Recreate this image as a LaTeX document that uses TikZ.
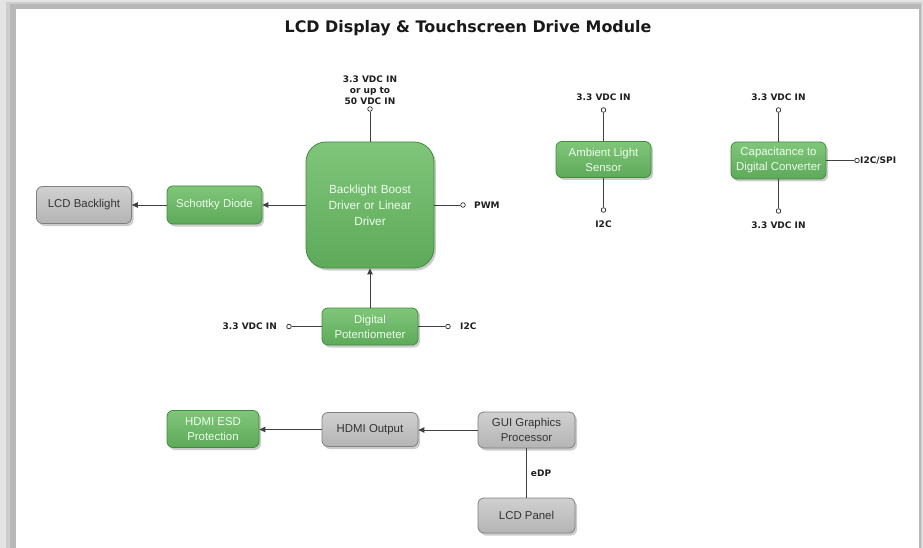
\documentclass[tikz,border=0pt]{standalone}
\usepackage{fontspec}
\setmainfont{Liberation Sans}
\newfontfamily\pinfont{DejaVu Sans}
\usetikzlibrary{arrows.meta,shadows,positioning}
\definecolor{gfill}{HTML}{6BB867}
\definecolor{gtop}{HTML}{80C67A}
\definecolor{gbot}{HTML}{5EA95A}
\definecolor{gline}{HTML}{3F8C3C}
\definecolor{sfill}{HTML}{C2C2C2}
\definecolor{stop}{HTML}{D0D0D0}
\definecolor{sbot}{HTML}{B4B4B4}
\definecolor{sline}{HTML}{808080}
\definecolor{frameA}{HTML}{E4E4E4}
\definecolor{frameB}{HTML}{CDCDCD}
\definecolor{frameC}{HTML}{B8B8B8}
\tikzset{
  box/.style={rounded corners=6pt, line width=0.8pt, inner sep=2pt, align=center,
    font=\fontsize{11.4}{15}\selectfont,
    drop shadow={opacity=0.4, shadow xshift=2pt, shadow yshift=-2.5pt}},
  gbox/.style={box, draw=gline, top color=gtop, bottom color=gbot, text=white!92!green},
  sbox/.style={box, draw=sline, top color=stop, bottom color=sbot, text=black!80},
  pinc/.style={circle, draw=black!85, fill=white, inner sep=0pt, minimum size=4.6pt, line width=0.7pt},
  plabel/.style={font=\pinfont\bfseries\fontsize{9}{11}\selectfont, text=black!88, inner sep=0pt, align=center},
  wire/.style={line width=0.9pt, draw=black!75},
  arr/.style={wire, -{Triangle[length=6pt,width=5.5pt]}}
}
\begin{document}
\begin{tikzpicture}[x=1pt,y=-1pt]
\useasboundingbox (0,0) rectangle (923,548);
% frame
\fill[frameA] (0,0) rectangle (923,548);
\fill[frameB] (6,2) rectangle (922,548);
\fill[frameC] (10,4) rectangle (921,548);
\fill[white] (16,9) rectangle (919,548);
% title
\node[font=\pinfont\bfseries\fontsize{15.9}{18}\selectfont, text=black!90] (title) at (468,28) {LCD Display \& Touchscreen Drive Module};
% boxes
\node[gbox, rounded corners=20pt, minimum width=128pt, minimum height=126pt, text width=110pt, font=\fontsize{11.8}{16}\selectfont] (boost) at (370,205) {Backlight Boost\\Driver or Linear\\Driver};
\node[gbox, minimum width=95pt, minimum height=38pt] (schottky) at (214.5,205) {Schottky Diode};
\node[sbox, minimum width=95pt, minimum height=37pt] (backlight) at (84,205) {LCD Backlight};
\node[gbox, minimum width=96pt, minimum height=37pt] (pot) at (370,326.5) {Digital\\Potentiometer};
\node[gbox, minimum width=95pt, minimum height=36pt] (als) at (603.5,159.5) {Ambient Light\\Sensor};
\node[gbox, minimum width=95pt, minimum height=37pt] (cdc) at (778.5,160.5) {Capacitance to\\Digital Converter};
\node[gbox, minimum width=92pt, minimum height=37pt] (esd) at (213,429) {HDMI ESD\\Protection};
\node[sbox, minimum width=96pt, minimum height=34pt] (hdmi) at (370,429.5) {HDMI Output};
\node[sbox, minimum width=97pt, minimum height=36pt] (gui) at (526.5,430) {GUI Graphics\\Processor};
\node[sbox, minimum width=97pt, minimum height=35pt] (panel) at (526.5,515.5) {LCD Panel};
% pins
\node[pinc] (pboostin) at (370,109) {};
\node[pinc] (ppwm) at (463,205) {};
\node[pinc] (ppotin) at (289,326.5) {};
\node[pinc] (ppoti2c) at (448,326.5) {};
\node[pinc] (palsin) at (603.5,110) {};
\node[pinc] (palsi2c) at (603.5,210) {};
\node[pinc] (pcdcin) at (778.5,110) {};
\node[pinc] (pcdcbot) at (778.5,211) {};
\node[pinc] (pcdcspi) at (857,160.5) {};
% labels
\node[plabel] (lboostin) at (370,90) {3.3 VDC IN\\or up to\\50 VDC IN};
\node[plabel, anchor=west] (lpwm) at (474,205.5) {PWM};
\node[plabel, anchor=east] (lpotin) at (277,326.5) {3.3 VDC IN};
\node[plabel, anchor=west] (lpoti2c) at (460,326.5) {I2C};
\node[plabel] (lalsin) at (603.5,97) {3.3 VDC IN};
\node[plabel] (lalsi2c) at (603.5,224) {I2C};
\node[plabel] (lcdcin) at (778.5,97) {3.3 VDC IN};
\node[plabel] (lcdcbot) at (778.5,225) {3.3 VDC IN};
\node[plabel, anchor=west] (lcdcspi) at (860,160.5) {I2C/SPI};
% wires
\draw[wire] (pboostin) -- (boost.north);
\draw[wire] (boost.east) -- (ppwm);
\draw[arr] (boost.west) -- (schottky.east);
\draw[arr] (schottky.west) -- (backlight.east);
\draw[arr] (pot.north) -- (boost.south);
\draw[wire] (ppotin) -- (pot.west);
\draw[wire] (pot.east) -- (ppoti2c);
\draw[wire] (palsin) -- (als.north);
\draw[wire] (als.south) -- (palsi2c);
\draw[wire] (pcdcin) -- (cdc.north);
\draw[wire] (cdc.south) -- (pcdcbot);
\draw[wire] (cdc.east) -- (pcdcspi);
\draw[arr] (gui.west) -- (gui.west -| hdmi.east);
\draw[arr] (hdmi.west) -- (hdmi.west -| esd.east);
\draw[wire] (gui.south) -- node[plabel, anchor=west, xshift=4pt] (ledp) {eDP} (panel.north);
\end{tikzpicture}
\end{document}
